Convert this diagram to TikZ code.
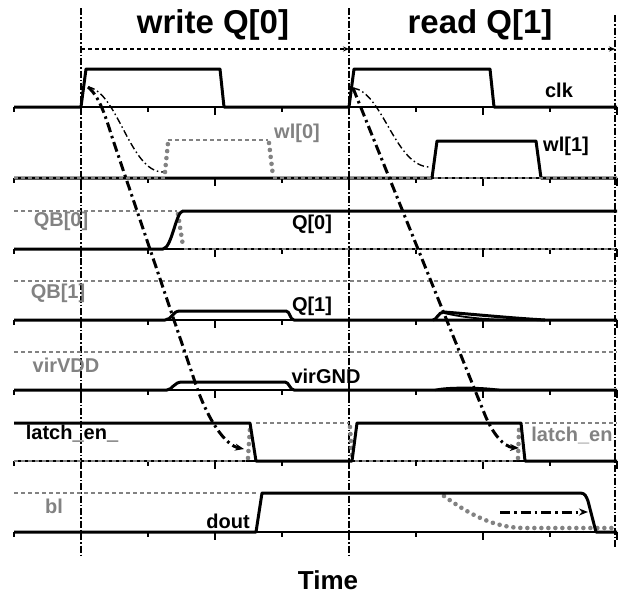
\documentclass[tikz,border=0pt]{standalone}
\usepackage{fontspec}
\setmainfont{Liberation Sans}
\usetikzlibrary{arrows.meta}
\definecolor{sgray}{RGB}{130,130,130}
\tikzset{
  sig/.style   ={line width=3pt,line join=round},
  axis/.style  ={line width=1.6pt},
  gdash/.style ={sgray,line width=2pt,dash pattern=on 4pt off 3pt},
  gdot/.style  ={sgray,line width=4.6pt,line cap=round,dash pattern=on 0pt off 7pt},
  vmark/.style ={line width=1.4pt,dash pattern=on 7pt off 2pt on 1.5pt off 2pt},
  span/.style  ={line width=1.6pt,dash pattern=on 4pt off 3pt,-{Stealth[length=6pt,width=5pt]}},
  cthin/.style ={line width=1.4pt,dash pattern=on 7pt off 3pt on 1.5pt off 3pt},
  cthick/.style={line width=3pt,dash pattern=on 10pt off 4pt on 2.5pt off 4pt,
                 -{Stealth[length=9pt,width=7pt]}},
  lbl/.style   ={font=\bfseries\fontsize{20}{22}\selectfont,inner sep=0pt},
  glbl/.style  ={lbl,text=sgray},
  ttl/.style   ={font=\bfseries\fontsize{33}{36}\selectfont,inner sep=0pt},
}

\begin{document}
\begin{tikzpicture}[x=1pt,y=-1pt]
  \useasboundingbox (0,0) rectangle (624,597);
  % time axes with ticks
  \foreach \b in {107,178,249,320,390,461,532} {
    \draw[axis] (14,\b) -- (617,\b);
    \foreach \t in {14,148,282,416,550} \draw[axis] (\t,\b) -- ++(0,5);
    \foreach \t in {81,215,349,483,617} \draw[axis] (\t,\b) -- ++(0,8);
  }
  % phase markers
  \draw[vmark] (81,8) -- (81,555);
  \draw[vmark] (349,8) -- (349,555);
  \draw[vmark] (615,15) -- (615,547);
  \coordinate (phA) at (81,49);
  \coordinate (phB) at (349,49);
  \coordinate (phC) at (615,49);
  \draw[span] (phA) -- (phB);
  \draw[span] (phB) -- (phC);
  \node[ttl] (ttlwr) at (213,25) {write Q[0]};
  \node[ttl] (ttlrd) at (480,25) {read Q[1]};

  % clk
  \draw[sig] (14,107) -- (81,107) -- (86,69) -- (220,69) -- (224,107) -- (349,107)
    -- (354,69) -- (490,69) -- (494,107) -- (617,107);
  \node[lbl] (clk) at (559,90) {clk};

  % word lines
  \draw[sig] (14,178) -- (432,178) -- (437,141) -- (536,141) -- (541,178) -- (617,178);
  \draw[gdash] (14,178) -- (165,178);
  \draw[gdot] (165,172) -- (168,143);
  \draw[gdash] (168,140) -- (268,140);
  \draw[gdot] (269,143) -- (273,176);
  \draw[gdash] (273,178) -- (617,178);
  \node[glbl] (wl0) at (297,133) {wl[0]};
  \node[lbl] (wl1) at (566,146) {wl[1]};

  % cell 0
  \draw[gdash] (14,211) -- (177,211);
  \draw[gdot] (178,214) -- (183,246);
  \draw[gdash] (184,249) -- (617,249);
  \draw[sig] (14,249) -- (163,249) .. controls (172,248) and (176,211) .. (183,211) -- (617,211);
  \node[glbl] (qb0) at (61,221) {QB[0]};
  \node[lbl] (q0) at (312,224) {Q[0]};

  % cell 1
  \draw[gdash] (14,281) -- (617,281);
  \draw[sig] (14,320) -- (165,320) .. controls (172,320) and (172,311) .. (180,311)
    -- (286,311) .. controls (290,311) and (290,320) .. (294,320) -- (617,320);
  \draw[sig] (433,320) .. controls (437,320) and (438,312) .. (444,312)
    .. controls (470,314) and (510,318) .. (545,320);
  \draw[line width=1.8pt] (444,313) .. controls (465,318) and (490,320) .. (520,320);
  \node[glbl] (qb1) at (58,293) {QB[1]};
  \node[lbl] (q1) at (312,306) {Q[1]};

  % virtual rails
  \draw[gdash] (14,352) -- (617,352);
  \draw[sig] (14,390) -- (167,390) .. controls (172,390) and (174,382) .. (182,382)
    -- (285,382) .. controls (289,382) and (290,390) .. (294,390) -- (617,390);
  \draw[line width=2.2pt] (435,390) .. controls (445,387) and (480,387) .. (500,390);
  \node[glbl] (vdd) at (66,365) {virVDD};
  \node[lbl] (vgnd) at (326,376) {virGND};

  % latch enables
  \draw[gdash] (14,461) -- (246,461);
  \draw[gdot] (248,458) -- (250,428);
  \draw[gdash] (256,423) -- (349,423);
  \draw[gdot] (350,427) -- (352,458);
  \draw[gdash] (355,461) -- (516,461);
  \draw[gdot] (518,458) -- (519,430);
  \draw[gdash] (525,423) -- (617,423);
  \draw[sig] (14,423) -- (250,423) -- (256,461) -- (352,461) -- (357,423) -- (521,423)
    -- (525,461) -- (617,461);
  \node[lbl] (laten) at (72,433) {latch\_en\_};
  \node[glbl] (latenb) at (572,435) {latch\_en};

  % bit line and output
  \draw[gdash] (14,493) -- (256,493);
  \draw[gdot] (444,496) .. controls (470,515) and (495,528) .. (525,528) -- (617,528);
  \draw[sig] (14,532) -- (256,532) -- (262,493) -- (580,493)
    .. controls (585,493) and (586,496) .. (588,501) -- (596,532) -- (617,532);
  \node[glbl] (bl) at (54,506) {bl};
  \node[lbl] (dout) at (228,521) {dout};

  % cause and effect
  \coordinate (clkW) at (88,87);
  \coordinate (clkR) at (353,88);
  \coordinate (wlW) at (163,172);
  \coordinate (wlR) at (430,167);
  \coordinate (latW) at (244,449);
  \coordinate (latR) at (519,448);
  \coordinate (blS) at (500,512);
  \coordinate (blE) at (588,512);
  \draw[cthin] (clkW) .. controls (118,92) and (130,172) .. (wlW);
  \draw[cthin] (clkR) .. controls (383,92) and (395,167) .. (wlR);
  \draw[cthick] (clkW) .. controls (100,97) and (106,118) .. (113,140) -- (196,385)
    .. controls (208,420) and (225,445) .. (latW);
  \draw[cthick] (clkR) -- (485,415) .. controls (492,432) and (503,447) .. (latR);
  \draw[cthick] (blS) -- (blE);

  \node[font=\bfseries\fontsize{26}{28}\selectfont,inner sep=0pt] (time) at (328,580) {Time};
\end{tikzpicture}
\end{document}
